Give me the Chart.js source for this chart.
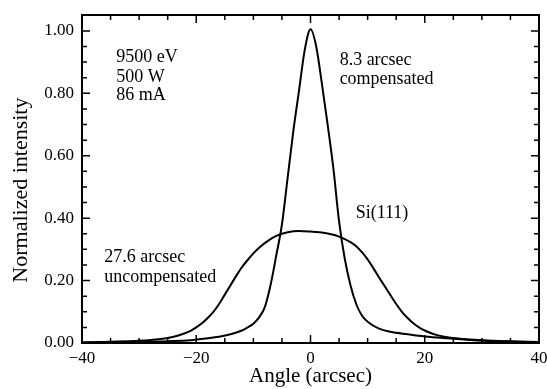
<!DOCTYPE html>
<html>
<head>
<meta charset="utf-8">
<script src="https://cdn.jsdelivr.net/npm/chart.js@4/dist/chart.umd.min.js"></script>
<style>
  html, body { margin: 0; padding: 0; background: #fff; }
  #myChart { display: block; }
</style>
</head>
<body>
<canvas id="myChart" width="547" height="389"></canvas>
<script>
// compensated curve (8.3 arcsec)
const comp_angle = [-40, -30, -25, -21, -18, -16, -14, -12, -11, -10, -9, -8, -7, -6, -5, -4, -3, -2, -1, 0,
                    1, 2, 3, 4, 5, 6, 7, 8, 9, 10, 12, 14, 17, 20, 24, 28, 32, 36, 40];
const comp_int = [0.002, 0.004, 0.006, 0.009, 0.015, 0.02, 0.028, 0.04, 0.05, 0.062, 0.082, 0.115, 0.185, 0.28, 0.38, 0.53, 0.68, 0.81, 0.94, 1.005,
                  0.95, 0.83, 0.70, 0.56, 0.39, 0.27, 0.185, 0.125, 0.088, 0.068, 0.046, 0.036, 0.028, 0.021, 0.015, 0.01, 0.006, 0.004, 0.002];

// uncompensated curve (27.6 arcsec)
const uncomp_angle = [-40, -35, -30, -27, -25, -23, -21, -20, -19, -18, -17, -16, -15, -14, -13, -12, -11, -10, -9, -8, -7, -6, -5, -4, -3, -2, -1, 0,
                      1, 2, 3, 4, 5, 6, 7, 8, 9, 10, 11, 12, 13, 14, 15, 16, 17, 18, 19, 20, 22, 25, 28, 32, 36, 40];
const uncomp_int = [0.002, 0.004, 0.007, 0.011, 0.016, 0.025, 0.039, 0.05, 0.063, 0.08, 0.1, 0.125, 0.155, 0.185, 0.215, 0.243, 0.266, 0.287, 0.305, 0.32, 0.333, 0.343, 0.35, 0.355, 0.358, 0.359, 0.358, 0.357,
                    0.356, 0.354, 0.351, 0.347, 0.341, 0.333, 0.323, 0.31, 0.291, 0.268, 0.24, 0.21, 0.182, 0.153, 0.125, 0.1, 0.08, 0.063, 0.05, 0.04, 0.026, 0.016, 0.011, 0.007, 0.005, 0.003];

const x_ticks = [-40, -20, 0, 20, 40];
const y_ticks = [0, 0.2, 0.4, 0.6, 0.8, 1.0];
const x_minor = 5;
const y_minor = 0.05;

// text labels inside the plot (data coordinates, left aligned, baseline)
const notes = [
  { text: "9500 eV", x: -34, y: 0.90 },
  { text: "500 W", x: -34, y: 0.836 },
  { text: "86 mA", x: -34, y: 0.778 },
  { text: "8.3 arcsec", x: 5.1, y: 0.89 },
  { text: "compensated", x: 5.1, y: 0.83 },
  { text: "Si(111)", x: 7.9, y: 0.40 },
  { text: "27.6 arcsec", x: -36.1, y: 0.259 },
  { text: "uncompensated", x: -36.1, y: 0.195 }
];

const serif = "'Liberation Serif', 'Times New Roman', serif";
const y_title = "Normalized intensity";

function toXY(xs, ys) {
  return xs.map((x, i) => ({ x: x, y: ys[i] }));
}

// frame, inward ticks on all four sides, y title and the text notes
const framePlugin = {
  id: "frame",
  afterDatasetsDraw(chart) {
    const ctx = chart.ctx;
    const a = chart.chartArea;
    const xs = chart.scales.x, ys = chart.scales.y;
    ctx.save();
    ctx.strokeStyle = "#000";
    ctx.lineWidth = 2;
    ctx.strokeRect(a.left, a.top, a.right - a.left, a.bottom - a.top);
    ctx.lineWidth = 1.5;
    ctx.beginPath();
    for (let v = xs.min; v <= xs.max + 1e-9; v += x_minor) {
      const px = xs.getPixelForValue(v);
      const len = x_ticks.includes(Math.round(v)) ? 8 : 5;
      ctx.moveTo(px, a.bottom); ctx.lineTo(px, a.bottom - len);
      ctx.moveTo(px, a.top); ctx.lineTo(px, a.top + len);
    }
    for (let k = 0; k * y_minor <= ys.max + 1e-9; k++) {
      const v = k * y_minor;
      const py = ys.getPixelForValue(v);
      const len = (k % 4 === 0) ? 8 : 5;
      ctx.moveTo(a.left, py); ctx.lineTo(a.left + len, py);
      ctx.moveTo(a.right, py); ctx.lineTo(a.right - len, py);
    }
    ctx.stroke();
    ctx.fillStyle = "#000";
    ctx.font = "18px " + serif;
    ctx.textAlign = "left";
    ctx.textBaseline = "alphabetic";
    notes.forEach(n => {
      ctx.fillText(n.text, xs.getPixelForValue(n.x), ys.getPixelForValue(n.y));
    });
    // y axis title, placed a bit below the centre like the original
    ctx.translate(21, ys.getPixelForValue(0.49));
    ctx.rotate(-Math.PI / 2);
    ctx.font = "22px " + serif;
    ctx.textAlign = "center";
    ctx.textBaseline = "middle";
    ctx.fillText(y_title, 0, 0);
    ctx.restore();
  }
};

const ctx = document.getElementById("myChart");

new Chart(ctx, {
  type: "line",
  data: {
    datasets: [
      {
        label: "compensated",
        data: toXY(comp_angle, comp_int),
        borderColor: "#000",
        borderWidth: 2,
        pointRadius: 0,
        cubicInterpolationMode: "monotone",
        fill: false
      },
      {
        label: "uncompensated",
        data: toXY(uncomp_angle, uncomp_int),
        borderColor: "#000",
        borderWidth: 2,
        pointRadius: 0,
        cubicInterpolationMode: "monotone",
        fill: false
      }
    ]
  },
  options: {
    responsive: false,
    animation: false,
    maintainAspectRatio: false,
    devicePixelRatio: 1,
    layout: { padding: { top: 15, right: 8, left: 0, bottom: 0 } },
    plugins: {
      legend: { display: false },
      tooltip: { enabled: false }
    },
    scales: {
      x: {
        type: "linear",
        min: -40,
        max: 40,
        afterBuildTicks: (s) => { s.ticks = x_ticks.map(v => ({ value: v })); },
        afterFit: (s) => { s.height = 46; s.paddingLeft = 0; s.paddingRight = 0; },
        grid: { display: false, drawTicks: false },
        border: { display: false },
        ticks: {
          color: "#000",
          padding: 5,
          maxRotation: 0,
          font: { family: serif, size: 17 },
          callback: (v) => (v < 0 ? "\u2212" + Math.abs(v) : String(v))
        },
        title: {
          display: true,
          text: "Angle (arcsec)",
          color: "#000",
          padding: { top: 0, bottom: 0 },
          font: { family: serif, size: 21 }
        }
      },
      y: {
        type: "linear",
        min: 0,
        max: 1.051,
        afterBuildTicks: (s) => { s.ticks = y_ticks.map(v => ({ value: v })); },
        afterFit: (s) => { s.width = 82; s.paddingTop = 0; s.paddingBottom = 0; },
        grid: { display: false, drawTicks: false },
        border: { display: false },
        ticks: {
          color: "#000",
          padding: 8,
          font: { family: serif, size: 17 },
          callback: (v) => Number(v).toFixed(2)
        },
        title: { display: false }
      }
    }
  },
  plugins: [framePlugin]
});
</script>
</body>
</html>
